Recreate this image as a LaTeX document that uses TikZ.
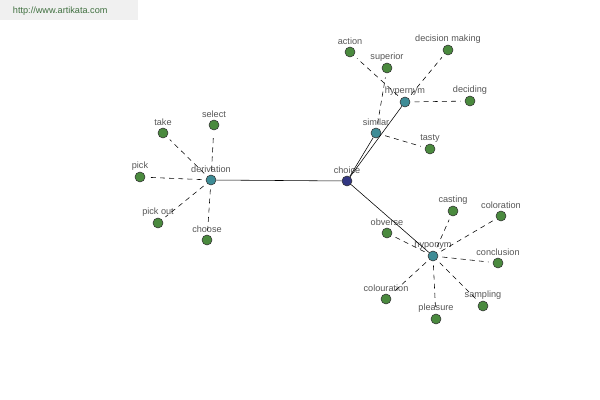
\documentclass[tikz,border=0pt]{standalone}
\usepackage{fontspec}
\setmainfont{Liberation Sans}
\usetikzlibrary{positioning}
\definecolor{leafgreen}{RGB}{74,138,62}
\definecolor{hubteal}{RGB}{62,140,150}
\definecolor{rootblue}{RGB}{50,55,130}
\definecolor{labelgray}{RGB}{85,85,85}

\begin{document}
\begin{tikzpicture}[
    x=0.025cm, y=-0.025cm,
    every label/.style={font=\fontsize{6.5}{7.5}\selectfont, text=labelgray, inner sep=1pt},
    label distance=0pt,
    leaf/.style={circle, draw=black!80, fill=leafgreen, minimum size=0.25cm, inner sep=0pt, thin},
    hub/.style={circle, draw=black!80, fill=hubteal, minimum size=0.25cm, inner sep=0pt, thin},
    root/.style={circle, draw=black!80, fill=rootblue, minimum size=0.25cm, inner sep=0pt, thin},
    rel/.style={draw=black, line width=0.4pt},
    sub/.style={draw=black, line width=0.4pt, dash pattern=on 3.5pt off 3pt,
                shorten <=3pt, shorten >=3pt}
]
\useasboundingbox (0,0) rectangle (600,400);

% watermark
\node[fill=gray!12, minimum width=3.45cm, minimum height=0.5cm, anchor=north west, inner sep=0pt] (site) at (0,0) {};
\node[font=\fontsize{6.5}{8}\selectfont, text=green!25!black!75, anchor=west] (sitetext) at (8,11) {http://www.artikata.com};

% centre and relation nodes
\node[root, label=above:choice]     (choice)     at (347,181) {};
\node[hub,  label=above:derivation] (derivation) at (211,180) {};
\node[hub,  label=above:hypernym]   (hypernym)   at (405,102) {};
\node[hub,  label=above:similar]    (similar)    at (376,133) {};
\node[hub,  label=above:hyponym]    (hyponym)    at (433,256) {};

% derivation
\node[leaf, label=above:take]     (take)    at (163,133) {};
\node[leaf, label=above:select]   (select)  at (214,125) {};
\node[leaf, label=above:pick]     (pick)    at (140,177) {};
\node[leaf, label=above:pick out] (pickout) at (158,223) {};
\node[leaf, label=above:choose]   (choose)  at (207,240) {};

% hypernym and similar
\node[leaf, label=above:action]          (action)   at (350,52) {};
\node[leaf, label=above:superior]        (superior) at (387,68) {};
\node[leaf, label=above:decision making] (decision) at (448,50) {};
\node[leaf, label=above:deciding]        (deciding) at (470,101) {};
\node[leaf, label=above:tasty]           (tasty)    at (430,149) {};

% hyponym
\node[leaf, label=above:casting]     (casting)     at (453,211) {};
\node[leaf, label=above:coloration]  (coloration)  at (501,216) {};
\node[leaf, label=above:obverse]     (obverse)     at (387,233) {};
\node[leaf, label=above:conclusion]  (conclusion)  at (498,263) {};
\node[leaf, label=above:colouration] (colouration) at (386,299) {};
\node[leaf, label=above:pleasure]    (pleasure)    at (436,319) {};
\node[leaf, label=above:sampling]    (sampling)    at (483,306) {};

\draw[rel] (choice) -- (derivation);
\draw[rel] (choice) -- (hypernym);
\draw[rel] (choice) -- (similar);
\draw[rel] (choice) -- (hyponym);

\foreach \n in {take, select, pick, pickout, choose}
    \draw[sub] (derivation) -- (\n);
\foreach \n in {action, decision, deciding}
    \draw[sub] (hypernym) -- (\n);
\foreach \n in {superior, tasty}
    \draw[sub] (similar) -- (\n);
\foreach \n in {casting, coloration, obverse, conclusion, colouration, pleasure, sampling}
    \draw[sub] (hyponym) -- (\n);

\end{tikzpicture}
\end{document}
